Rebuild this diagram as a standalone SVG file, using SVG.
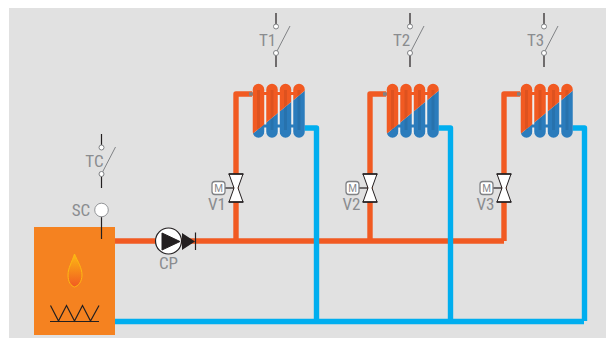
<svg xmlns="http://www.w3.org/2000/svg" xmlns:xlink="http://www.w3.org/1999/xlink" width="606" height="338" viewBox="0 0 606 338">
<style>
.hot{fill:none;stroke:#f15a22;stroke-width:5.400;stroke-linejoin:round}
.cold{fill:none;stroke:#00aeef;stroke-width:5.400;stroke-linejoin:round}
.wire{fill:none;stroke:#231f20;stroke-width:1.200}
.lever{fill:none;stroke:#808285;stroke-width:1}
.term{fill:#fff;stroke:#808285;stroke-width:1}
.lbl{font-family:"Liberation Sans Narrow","Roboto Condensed",Roboto,"Liberation Sans",sans-serif;font-size:17px;fill:#8a8c8f;text-anchor:middle}
.tube{stroke-width:11.500;stroke-linecap:round;fill:none}
.bar{stroke-width:3;fill:none}
</style>
<defs>
<linearGradient id="fl" x1="0" y1="0" x2="0" y2="1"><stop offset="0" stop-color="#fdb913"/><stop offset="1" stop-color="#f15a22"/></linearGradient>
<clipPath id="ch"><polygon points="250,82 308,82 308,88 250,136"/></clipPath>
<clipPath id="cc"><polygon points="250,136 308,88 308,140 250,140"/></clipPath>
<g id="rad">
<rect x="254" y="91" width="50.500" height="42" fill="#efefef"/>
<g clip-path="url(#cc)" stroke="#2b7cbc">
<path class="bar" d="M258 126H299M258 93.500H299"/>
<path class="tube" d="M258.500 89.500V132M272 89.500V132M285.500 89.500V132M299 89.500V132"/>
</g>
<g clip-path="url(#ch)" stroke="#f15a22">
<path class="bar" d="M258 93.500H299M258 126H299"/>
<path class="tube" d="M258.500 89.500V132M272 89.500V132M285.500 89.500V132M299 89.500V132"/>
</g>
<path d="M258.500 90V130M272 90V130M285.500 90V130M299 90V130" stroke="#000" stroke-opacity=".08" stroke-width="3" fill="none"/>
</g>
<g id="sw">
<path class="wire" d="M0 0V13M0 40V54"/>
<path class="lever" d="M0 40L14 13"/>
<circle class="term" cx="0" cy="13.500" r="2.500"/>
<circle class="term" cx="0" cy="40" r="2.500"/>
</g>
<g id="valve">
<path d="M-7 -14H7L2 0L7 14H-7L-2 0Z" fill="#fff" stroke="#231f20" stroke-width="1" stroke-linejoin="round"/>
<path d="M-7.500 -14H7.500M-7.500 14H7.500" stroke="#231f20" stroke-width="1.500"/>
<path d="M-2 0H-11" stroke="#231f20" stroke-width="1.200"/>
<rect x="-24" y="-6.500" width="13" height="13" rx="3" fill="#fff" stroke="#808285" stroke-width="1.300"/>
<text x="-17.500" y="4" font-family="'Liberation Sans','Open Sans',sans-serif" font-size="10.500" fill="#808285" text-anchor="middle">M</text>
</g>
</defs>
<rect id="background" x="9" y="8" width="597" height="330" fill="#e1e1e1"/>
<g id="connectors">
<path class="hot" d="M115 241H504"/>
<path class="hot" d="M236 241V94H252"/>
<path class="hot" d="M370 241V94H386"/>
<path class="hot" d="M504 241V94H520"/>
<path class="cold" d="M115 321.500H584"/>
<path class="cold" d="M302 128H316.500V321"/>
<path class="cold" d="M436 128H450.500V321"/>
<path class="cold" d="M570 128H584.500V321"/>
<path d="M249 94H253M383 94H387M517 94H521" stroke="#808285" stroke-width="3.500" fill="none"/>
</g>
<g id="rad1"><use xlink:href="#rad"/></g>
<g id="rad2"><use xlink:href="#rad" x="134"/></g>
<g id="rad3"><use xlink:href="#rad" x="268"/></g>
<g id="T1"><use xlink:href="#sw" x="276" y="13"/><text class="lbl" x="267.500" y="46">T1</text></g>
<g id="T2"><use xlink:href="#sw" x="410" y="13"/><text class="lbl" x="401.500" y="46">T2</text></g>
<g id="T3"><use xlink:href="#sw" x="544" y="13"/><text class="lbl" x="535.500" y="46">T3</text></g>
<g id="TC"><use xlink:href="#sw" x="101.500" y="134"/><text class="lbl" x="94.500" y="167">TC</text></g>
<g id="V1"><use xlink:href="#valve" x="236" y="188"/><text class="lbl" x="217" y="210">V1</text></g>
<g id="V2"><use xlink:href="#valve" x="370" y="188"/><text class="lbl" x="351.500" y="210">V2</text></g>
<g id="V3"><use xlink:href="#valve" x="504" y="188"/><text class="lbl" x="485.500" y="210">V3</text></g>
<g id="boiler">
<rect x="34" y="227" width="81" height="108" fill="#f58220"/>
<path d="M74.500 254C78 262 82 268 82 275C82 282 78 286 74.500 287C71 286 68 282 68 275C68 268 72 262 74.500 254Z" fill="url(#fl)" stroke="#fdb913" stroke-width="1"/>
<path d="M50.500 305.500L58.500 321L66.500 305.500L74.500 321L82.500 305.500L90.500 321L99 305.500M50 321.500H99" fill="none" stroke="#231f20" stroke-width="1.200"/>
<path class="wire" d="M101.500 216V239"/>
</g>
<g id="SC"><circle cx="101.500" cy="210" r="6.800" fill="#fff" stroke="#939598" stroke-width="1"/><text class="lbl" x="81" y="216">SC</text></g>
<g id="CP">
<circle cx="168.500" cy="241" r="13" fill="#fff" stroke="#231f20" stroke-width="1.200"/>
<path d="M162 233V250L180 241.500Z" fill="#231f20" stroke="#231f20" stroke-width="1"/>
<path d="M182 233V250L195 241.500Z" fill="#231f20"/>
<path d="M195.500 232.500V250" stroke="#231f20" stroke-width="1.200"/>
<text class="lbl" x="168.500" y="269">CP</text>
</g>
</svg>
